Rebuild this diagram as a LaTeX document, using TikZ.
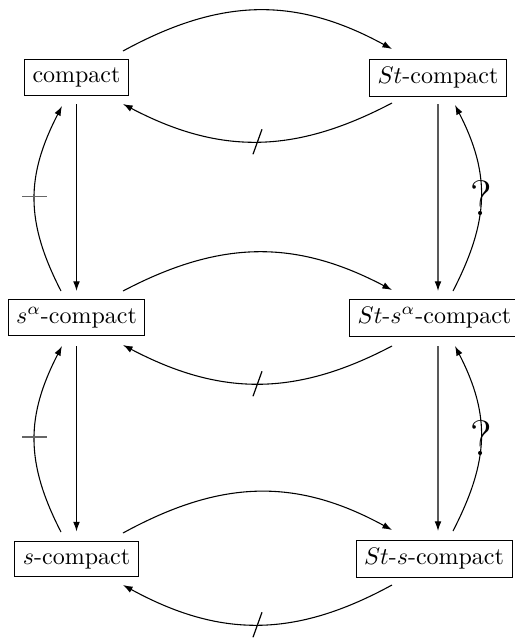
\documentclass[tikz,border=0pt]{standalone}
\usetikzlibrary{arrows.meta}
\begin{document}
\begin{tikzpicture}[x=0.41667pt,y=-0.41667pt,
  box/.style={draw,line width=0.4pt,inner sep=3.33pt},
  arr/.style={line width=0.45pt,-{Latex[length=4pt,width=2.8pt]}},
  tick/.style={line width=0.45pt,black!60},
  slash/.style={line width=0.5pt},
  qmark/.style={font=\huge,inner sep=0pt}]
\useasboundingbox (0,0) rectangle (515,639);
% nodes
\node[box] (c)   at (76.5,77.5)  {compact};
\node[box] (sc)  at (438,77.5)   {$St$-compact};
\node[box] (ac)  at (76.5,317.5) {$s^\alpha$-compact};
\node[box] (sac) at (434.5,317.5) {$St$-$s^\alpha$-compact};
\node[box] (s)   at (76.5,559)   {$s$-compact};
\node[box] (ss)  at (434,558.5)  {$St$-$s$-compact};
% forward curved arrows
\draw[arr] ([shift={(46.5,-26.5)}]c.center) .. controls +(97,-53) and +(-97,-53) .. ([shift={(-46,-28.5)}]sc.center);
\draw[arr] ([shift={(46.5,-26.5)}]ac.center) .. controls +(97,-51) and +(-97,-51) .. ([shift={(-42.5,-27.5)}]sac.center);
\draw[arr] ([shift={(46.5,-26)}]s.center) .. controls +(97,-53) and +(-97,-53) .. ([shift={(-42,-28.5)}]ss.center);
% return arrows (not implied)
\draw[arr] ([shift={(-46,25.5)}]sc.center) .. controls +(-97,51) and +(97,51) .. ([shift={(46.5,26.5)}]c.center) coordinate[pos=0.5] (m1);
\draw[arr] ([shift={(-42.5,28.5)}]sac.center) .. controls +(-97,51) and +(97,51) .. ([shift={(46.5,27.5)}]ac.center) coordinate[pos=0.5] (m2);
\draw[arr] ([shift={(-42,26.5)}]ss.center) .. controls +(-97,53) and +(97,53) .. ([shift={(46.5,26)}]s.center) coordinate[pos=0.5] (m3);
\draw[slash] ([shift={(-4.5,12.5)}]m1) -- ([shift={(4.5,-12.5)}]m1);
\draw[slash] ([shift={(-4.5,12.5)}]m2) -- ([shift={(4.5,-12.5)}]m2);
\draw[slash] ([shift={(-4.5,12.5)}]m3) -- ([shift={(4.5,-12.5)}]m3);
% vertical arrows
\draw[arr] ([shift={(0,26.5)}]c.center) -- ([shift={(0,-26.5)}]ac.center);
\draw[arr] ([shift={(0,28.5)}]ac.center) -- ([shift={(0,-27.5)}]s.center);
\draw[arr] ([shift={(0,26.5)}]sc.center) -- ([shift={(3.5,-26.5)}]sac.center);
\draw[arr] ([shift={(3.5,28.5)}]sac.center) -- ([shift={(4,-27.5)}]ss.center);
% left curved arrows (not implied)
\draw[arr] ([shift={(-15.5,-26.5)}]ac.center) .. controls +(-36,-70) and +(-36,70) .. ([shift={(-14.5,28.5)}]c.center) coordinate[pos=0.5] (l1);
\draw[arr] ([shift={(-15.5,-27)}]s.center) .. controls +(-36,-70) and +(-36,70) .. ([shift={(-14.5,28.5)}]ac.center) coordinate[pos=0.5] (l2);
\draw[tick] ([shift={(-12.5,-2)}]l1) -- ([shift={(12.5,-2)}]l1);
\draw[tick] ([shift={(-12.5,-2)}]l2) -- ([shift={(12.5,-2)}]l2);
% right curved arrows (open question)
\draw[arr] ([shift={(18.5,-26.5)}]sac.center) .. controls +(36,-70) and +(36,70) .. ([shift={(17,27.5)}]sc.center) node[qmark,pos=0.5] (q1) {?};
\draw[arr] ([shift={(19,-27.5)}]ss.center) .. controls +(36,-70) and +(36,70) .. ([shift={(20.5,28.5)}]sac.center) node[qmark,pos=0.5] (q2) {?};
\end{tikzpicture}
\end{document}
